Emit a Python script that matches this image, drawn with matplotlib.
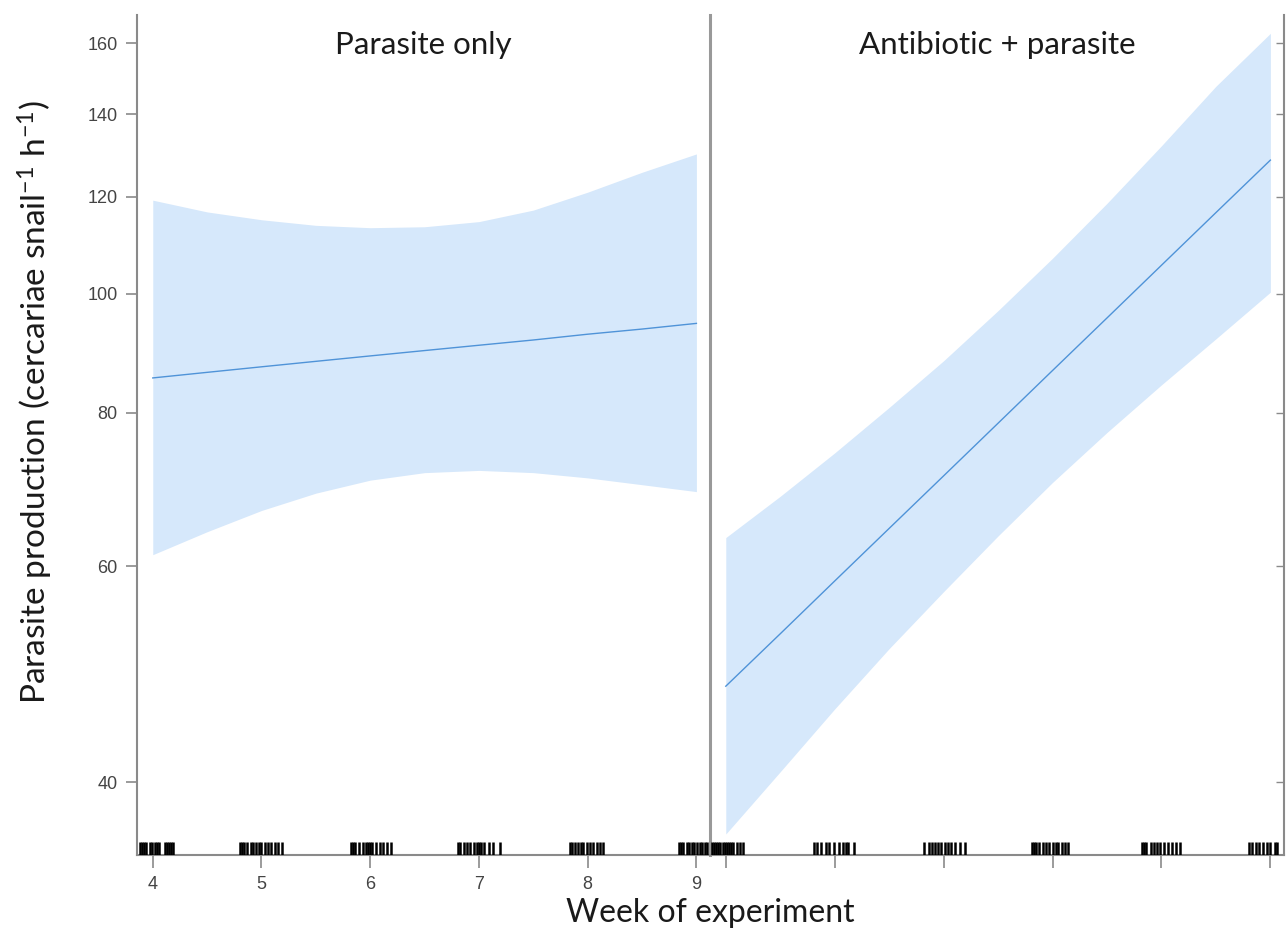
import matplotlib
matplotlib.use("Agg")
import matplotlib.pyplot as plt
from matplotlib.ticker import FixedLocator, NullLocator, FixedFormatter

# ---------------- data ----------------
weeks = [4, 4.5, 5, 5.5, 6, 6.5, 7, 7.5, 8, 8.5, 9]

po_fit   = [85.4, 86.3, 87.2, 88.1, 89.0, 89.9, 90.8, 91.7, 92.7, 93.6, 94.6]
po_upper = [119.2, 116.6, 114.9, 113.7, 113.2, 113.4, 114.5, 117.0, 121.0, 125.6, 130.0]
po_lower = [61.3, 64.0, 66.6, 68.8, 70.5, 71.5, 71.8, 71.5, 70.8, 69.9, 69.0]

ap_fit   = [47.9, 52.85, 58.35, 64.4, 71.07, 78.45, 86.6, 95.57, 105.5, 116.45, 128.5]
ap_upper = [63.3, 68.4, 74.2, 80.8, 88.2, 96.9, 106.9, 118.5, 132.0, 147.6, 163.0]
ap_lower = [36.3, 40.8, 45.9, 51.4, 57.2, 63.5, 70.2, 77.1, 84.3, 91.9, 100.3]

po_rug = [3.88, 3.90, 3.92, 3.94, 3.97, 3.99, 4.02, 4.04, 4.06, 4.11, 4.13, 4.15, 4.17, 4.19,
          4.80, 4.82, 4.84, 4.87, 4.90, 4.92, 4.95, 4.98, 5.00, 5.03, 5.06, 5.09, 5.12, 5.15, 5.19,
          5.82, 5.84, 5.86, 5.90, 5.93, 5.96, 5.98, 6.00, 6.02, 6.05, 6.09, 6.12, 6.15, 6.19,
          6.81, 6.83, 6.86, 6.89, 6.92, 6.95, 6.98, 7.00, 7.02, 7.05, 7.09, 7.13, 7.19,
          7.84, 7.86, 7.88, 7.91, 7.94, 7.96, 7.99, 8.02, 8.05, 8.09, 8.11, 8.14,
          8.84, 8.86, 8.88, 8.91, 8.93, 8.96, 8.98, 9.01, 9.03, 9.05, 9.08, 9.10]
ap_rug = [3.87, 3.89, 3.91, 3.93, 3.95, 3.97, 3.99, 4.01, 4.03, 4.05, 4.07, 4.10, 4.13, 4.16,
          4.81, 4.84, 4.87, 4.92, 4.95, 4.99, 5.04, 5.08, 5.10, 5.12, 5.18,
          5.82, 5.87, 5.89, 5.92, 5.95, 5.98, 6.01, 6.04, 6.07, 6.10, 6.15, 6.20,
          6.81, 6.83, 6.85, 6.88, 6.91, 6.94, 6.97, 7.00, 7.03, 7.05, 7.09, 7.11, 7.14,
          7.82, 7.84, 7.86, 7.90, 7.93, 7.96, 7.99, 8.02, 8.06, 8.10, 8.13, 8.17,
          8.80, 8.83, 8.87, 8.90, 8.93, 8.97, 9.00, 9.04, 9.06]

week_ticks = [4, 5, 6, 7, 8, 9]
y_ticks = [40, 60, 80, 100, 120, 140, 160]
titles = ["Parasite only", "Antibiotic + parasite"]

# ---------------- styling ----------------
FILL = "#d6e8fb"
LINE = "#4f93d8"
SPINE = "#8a8a8a"
TICKLAB = "#444444"
TXT_FONT = ["Lato", "DejaVu Sans"]
NUM_FONT = ["Liberation Sans", "DejaVu Sans"]
plt.rcParams["mathtext.default"] = "regular"

fig = plt.figure(figsize=(12.86, 9.35), dpi=100)
axL = fig.add_axes([137 / 1286, 80 / 935, 573 / 1286, 840 / 935])
axR = fig.add_axes([710 / 1286, 80 / 935, 574 / 1286, 840 / 935], sharey=axL)

panels = [(axL, po_fit, po_upper, po_lower, po_rug),
          (axR, ap_fit, ap_upper, ap_lower, ap_rug)]

for i, (ax, fit, up, lo, rug) in enumerate(panels):
    ax.fill_between(weeks, lo, up, color=FILL, lw=0, zorder=1)
    ax.plot(weeks, fit, color=LINE, lw=1.0, zorder=2)
    ax.vlines(rug, 0, 0.016, transform=ax.get_xaxis_transform(),
              colors="black", lw=1.8, zorder=3)
    ax.set_yscale("log")
    ax.set_xlim(3.855, 9.125)
    ax.set_ylim(34.9, 168.7)
    ax.xaxis.set_major_locator(FixedLocator(week_ticks))
    ax.xaxis.set_minor_locator(NullLocator())
    ax.spines["top"].set_visible(False)
    for s in ax.spines.values():
        s.set_color(SPINE)
        s.set_linewidth(1.5)
    ax.tick_params(axis="x", length=9, width=1.2, color=SPINE, direction="out",
                   labelsize=13, labelcolor=TICKLAB, pad=6)
    ax.text(0.5, 0.964, titles[i], transform=ax.transAxes, ha="center", va="center",
            fontsize=22.5, family=TXT_FONT, color="#1a1a1a")

# y axis (shared, log scale)
axL.yaxis.set_major_locator(FixedLocator(y_ticks))
axL.yaxis.set_major_formatter(FixedFormatter([str(v) for v in y_ticks]))
axL.yaxis.set_minor_locator(NullLocator())
axL.spines["right"].set_visible(False)
axL.tick_params(axis="y", length=8, width=1.2, color=SPINE, direction="out",
                labelsize=13, labelcolor=TICKLAB, pad=6)
axR.tick_params(axis="y", left=False, right=True, labelleft=False, labelright=False,
                length=6, width=1.0, color=SPINE, direction="in")
axR.tick_params(axis="x", labelbottom=False)
axR.spines["left"].set_linewidth(2.2)
axR.spines["left"].set_color("#999999")

for ax in (axL, axR):
    for lab in ax.get_xticklabels() + ax.get_yticklabels():
        lab.set_family(NUM_FONT)

fig.text(35 / 1286, 1 - 402 / 935,
         r"Parasite production (cercariae snail$^{-1}$ h$^{-1}$)",
         rotation=90, ha="center", va="center", fontsize=24, family=TXT_FONT,
         color="#1a1a1a")
fig.text(710 / 1286, 1 - 913 / 935, "Week of experiment",
         ha="center", va="center", fontsize=23, family=TXT_FONT, color="#1a1a1a")

fig.savefig("out.png", dpi=100)
